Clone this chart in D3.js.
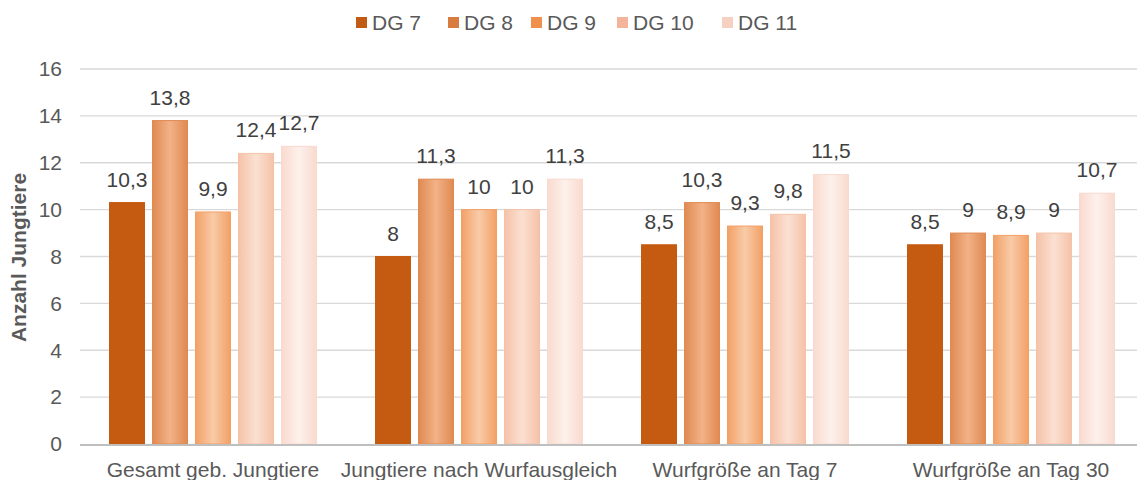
<!DOCTYPE html>
<html>
<head>
<meta charset="utf-8">
<script src="https://cdn.jsdelivr.net/npm/d3@7"></script>
<style>
  body { margin: 0; background: #fff; }
  svg { font-family: "Liberation Sans", Arial, sans-serif; }
</style>
</head>
<body>
<svg id="chart"></svg>
<script>
let width = 1137,
    height = 480;

// data
const categories = ["Gesamt geb. Jungtiere", "Jungtiere nach Wurfausgleich", "Wurfgröße an Tag 7", "Wurfgröße an Tag 30"];
const series = ["DG 7", "DG 8", "DG 9", "DG 10", "DG 11"];
const dg7 = [10.3, 8, 8.5, 8.5];
const dg8 = [13.8, 11.3, 10.3, 9];
const dg9 = [9.9, 10, 9.3, 8.9];
const dg10 = [12.4, 10, 9.8, 9];
const dg11 = [12.7, 11.3, 11.5, 10.7];
const yTicks = [0, 2, 4, 6, 8, 10, 12, 14, 16];

const values = [dg7, dg8, dg9, dg10, dg11];

// colours: legend swatch, bar edge, bar centre
const legendCol = ["#c05a14", "#d97c3f", "#ef914c", "#f3b49a", "#f6d0c3"];
const edgeCol   = ["#c55a11", "#e08a52", "#f3a066", "#f5c2a8", "#f9dacf"];
const midCol    = ["#c55a11", "#f2b287", "#f8cba8", "#fbe0d2", "#fdf1eb"];

const fs = 21;

const de = d3.formatLocale({decimal: ",", thousands: ".", grouping: [3], currency: ["", " €"]});
const fmt = de.format("~g");

let svg = d3.select("#chart")
    .attr("width", width)
    .attr("height", height);

let defs = svg.append("defs");
series.forEach((s, i) => {
    let g = defs.append("linearGradient")
        .attr("id", "grad" + i)
        .attr("x1", "0%").attr("x2", "100%")
        .attr("y1", "0%").attr("y2", "0%");
    g.append("stop").attr("offset", "0%").attr("stop-color", edgeCol[i]);
    g.append("stop").attr("offset", "50%").attr("stop-color", midCol[i]);
    g.append("stop").attr("offset", "100%").attr("stop-color", edgeCol[i]);
});

let x0 = d3.scaleBand()
    .domain(categories)
    .range([80, 1144]);

let x1 = d3.scaleBand()
    .domain(series)
    .range([29.5, x0.bandwidth() - 29.5])
    .paddingInner(8 / 43);

let y = d3.scaleLinear()
    .domain([0, 16])
    .range([444, 69]);

// gridlines
svg.append("g")
    .selectAll("line")
    .data(yTicks.filter(d => d > 0))
    .enter().append("line")
    .attr("x1", 80)
    .attr("x2", width)
    .attr("y1", d => y(d))
    .attr("y2", d => y(d))
    .attr("stroke", "#d9d9d9")
    .attr("stroke-width", 1.3);

// y tick labels
svg.append("g")
    .selectAll("text")
    .data(yTicks)
    .enter().append("text")
    .attr("x", 62)
    .attr("y", d => y(d))
    .attr("dy", "0.35em")
    .attr("text-anchor", "end")
    .attr("font-size", fs)
    .attr("fill", "#595959")
    .text(d => d);

// y title
svg.append("text")
    .attr("transform", "translate(19," + ((172 + 343) / 2) + ") rotate(-90)")
    .attr("dy", "0.35em")
    .attr("text-anchor", "middle")
    .attr("font-size", fs)
    .attr("font-weight", "bold")
    .attr("fill", "#595959")
    .text("Anzahl Jungtiere");

// bars
let groups = svg.append("g")
    .selectAll("g")
    .data(categories)
    .enter().append("g")
    .attr("transform", d => "translate(" + x0(d) + ",0)");

let rows = (c, ci) => series.map((s, si) => ({s: s, si: si, v: values[si][ci]}));

groups.selectAll("rect")
    .data((c, ci) => rows(c, ci))
    .enter().append("rect")
    .attr("x", d => x1(d.s))
    .attr("y", d => y(d.v))
    .attr("width", x1.bandwidth())
    .attr("height", d => y(0) - y(d.v))
    .attr("fill", d => "url(#grad" + d.si + ")")
    .attr("stroke", d => edgeCol[d.si])
    .attr("stroke-width", 1);

groups.selectAll("text")
    .data((c, ci) => rows(c, ci))
    .enter().append("text")
    .attr("x", d => x1(d.s) + x1.bandwidth() / 2)
    .attr("y", d => y(d.v) - 16)
    .attr("text-anchor", "middle")
    .attr("font-size", fs)
    .attr("fill", "#404040")
    .text(d => fmt(d.v));

// x axis line
svg.append("line")
    .attr("x1", 80)
    .attr("x2", width)
    .attr("y1", y(0) + 1)
    .attr("y2", y(0) + 1)
    .attr("stroke", "#bfbfbf")
    .attr("stroke-width", 2);

// category labels
svg.append("g")
    .selectAll("text")
    .data(categories)
    .enter().append("text")
    .attr("x", d => x0(d) + x0.bandwidth() / 2)
    .attr("y", 477)
    .attr("text-anchor", "middle")
    .attr("font-size", fs)
    .attr("fill", "#595959")
    .text(d => d);

// legend
const legendX = [356, 448, 531, 617, 722];
let legend = svg.append("g")
    .selectAll("g")
    .data(series)
    .enter().append("g")
    .attr("transform", (d, i) => "translate(" + legendX[i] + ",17)");

legend.append("rect")
    .attr("width", 11)
    .attr("height", 11)
    .attr("fill", (d, i) => legendCol[i]);

legend.append("text")
    .attr("x", 16)
    .attr("y", 13)
    .attr("font-size", fs)
    .attr("fill", "#595959")
    .text(d => d);
</script>
</body>
</html>
